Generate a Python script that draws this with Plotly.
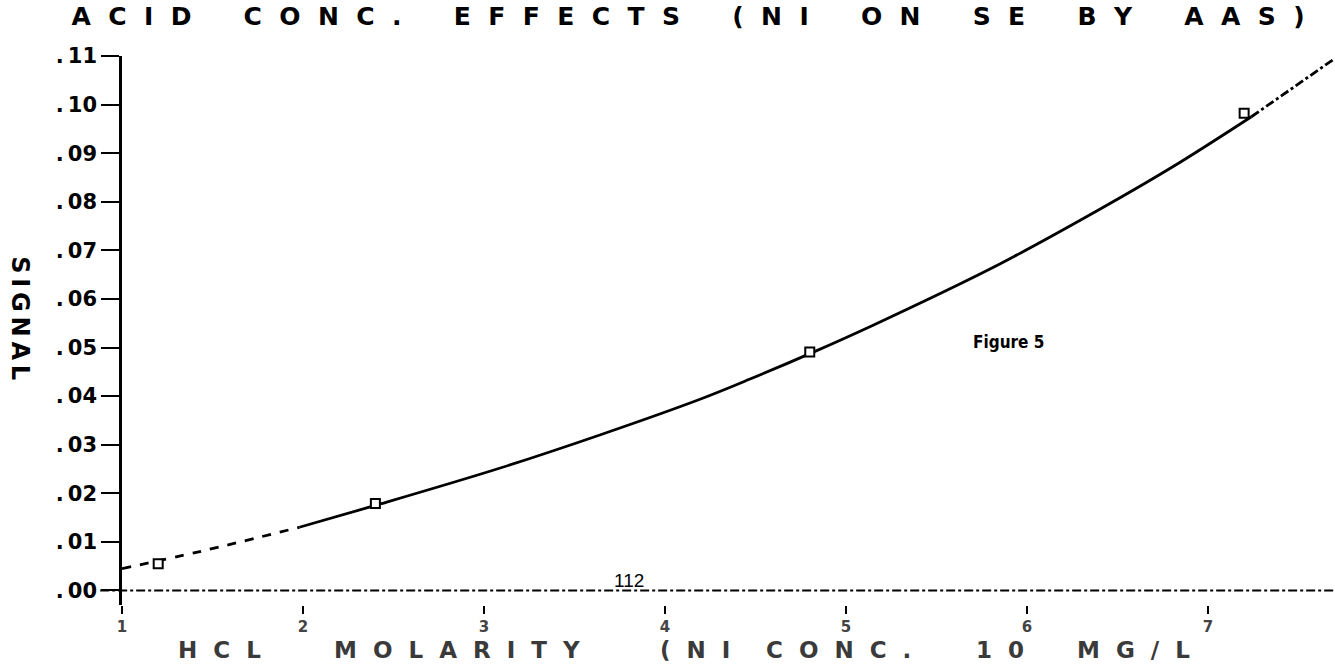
import plotly.graph_objects as go

# ---------------- data ----------------
point_x = [1.2, 2.4, 4.8, 7.2]
point_y = [0.0055, 0.0179, 0.0491, 0.0982]

curve_x = [1.00, 1.43, 1.98, 2.40, 3.09, 3.64, 4.19, 4.47, 4.81, 5.15, 5.85, 6.40, 6.81, 7.24, 7.69]
curve_y = [0.0045, 0.0080, 0.0130, 0.0175, 0.0252, 0.0320, 0.0393, 0.0435, 0.0489, 0.0546,
           0.0672, 0.0784, 0.0873, 0.0975, 0.1092]

y_tick_vals = [0.00, 0.01, 0.02, 0.03, 0.04, 0.05, 0.06, 0.07, 0.08, 0.09, 0.10, 0.11]
y_tick_text = [".00", ".01", ".02", ".03", ".04", ".05", ".06", ".07", ".08", ".09", ".10", ".11"]
x_tick_vals = [1, 2, 3, 4, 5, 6, 7]
x_tick_text = ["1", "2", "3", "4", "5", "6", "7"]

title_text = "ACID CONC. EFFECTS (NI ON SE BY AAS)"
x_title_words = ["HCL", "MOLARITY", "(NI", "CONC.", "10", "MG/L"]
x_title_word_pos = [1.536, 2.851, 4.166, 4.961, 5.851, 6.591]
y_title_text = "SIGNAL"
note_text = "Figure 5"
page_text = "112"

# ---------------- helpers for letter spacing ----------------
NB = "\u00a0"
TH = "\u2009"


def spaced_word(w, sep):
    return sep.join(list(w))


title_str = (NB * 6).join(spaced_word(w, NB * 2) for w in title_text.split(" "))

fig = go.Figure()

# fitted curve (dashed start, solid body, dash-dot end as in the scan)
fig.add_trace(go.Scatter(
    x=curve_x[:3], y=curve_y[:3], mode="lines",
    line=dict(color="black", width=2.8, dash="dash", shape="spline"),
    showlegend=False, hoverinfo="skip"))
fig.add_trace(go.Scatter(
    x=curve_x[2:14], y=curve_y[2:14], mode="lines",
    line=dict(color="black", width=2.8, shape="spline"),
    showlegend=False, hoverinfo="skip"))
fig.add_trace(go.Scatter(
    x=curve_x[13:], y=curve_y[13:], mode="lines",
    line=dict(color="black", width=2.8, dash="dashdot", shape="spline"),
    showlegend=False, hoverinfo="skip"))

# measured points
fig.add_trace(go.Scatter(
    x=point_x, y=point_y, mode="markers",
    marker=dict(symbol="square", size=9, color="white",
                line=dict(color="black", width=2)),
    showlegend=False))

# dash-dot zero line acting as x axis
fig.add_shape(type="line", xref="paper", yref="y", x0=-0.018, x1=1, y0=0, y1=0,
              line=dict(color="black", width=2, dash="dashdot"))

fig.add_annotation(x=5.90, y=0.0511, xref="x", yref="y", text="<b>" + note_text + "</b>",
                   showarrow=False, font=dict(family="DejaVu Sans Condensed, DejaVu Sans",
                                               size=17, color="black"))
fig.add_annotation(x=3.80, y=0.0, xref="x", yref="y", text=page_text, yanchor="bottom",
                   yshift=-3, showarrow=False,
                   font=dict(family="Liberation Sans, Arial", size=19, color="black"))

# y-axis title, reading top to bottom
fig.add_annotation(x=-0.0841, y=0.5224, xref="paper", yref="paper",
                   text="<b>" + spaced_word(y_title_text, TH) + "</b>",
                   showarrow=False, textangle=90, xanchor="center", yanchor="middle",
                   font=dict(family="DejaVu Sans", size=24, color="black"))

# x-axis title, word by word
for w, xp in zip(x_title_words, x_title_word_pos):
    fig.add_annotation(x=xp, y=-0.0828, xref="x", yref="paper",
                       text="<b>" + spaced_word(w, NB * 2) + "</b>",
                       showarrow=False, xanchor="center", yanchor="middle",
                       font=dict(family="DejaVu Sans", size=23, color="#3a3a3a"))

fig.update_layout(
    width=1335, height=667, autosize=False,
    margin=dict(l=122, r=0, t=56, b=62, pad=0),
    paper_bgcolor="white", plot_bgcolor="white",
    title=dict(text="<b>" + title_str + "</b>", x=688 / 1335, xanchor="center",
               y=1 - 16 / 667, yanchor="middle", xref="container", yref="container",
               font=dict(family="DejaVu Sans", size=25, color="black")),
    xaxis=dict(range=[1, 7.702], showgrid=False, zeroline=False, showline=False,
               tickmode="array", tickvals=x_tick_vals, ticktext=x_tick_text,
               ticks="outside", ticklen=8, tickwidth=2, tickcolor="black",
               tickfont=dict(family="DejaVu Sans", size=15, color="#444444", weight="bold")),
    yaxis=dict(range=[-0.003, 0.11], showgrid=False, zeroline=False, showline=True,
               linecolor="black", linewidth=2.5,
               tickmode="array", tickvals=y_tick_vals,
               ticktext=[t.replace(".", "." + TH) for t in y_tick_text],
               ticks="outside", ticklen=18, tickwidth=2, tickcolor="black",
               tickfont=dict(family="DejaVu Sans", size=21, color="black", weight="bold")),
)

fig.write_html("out.html")
